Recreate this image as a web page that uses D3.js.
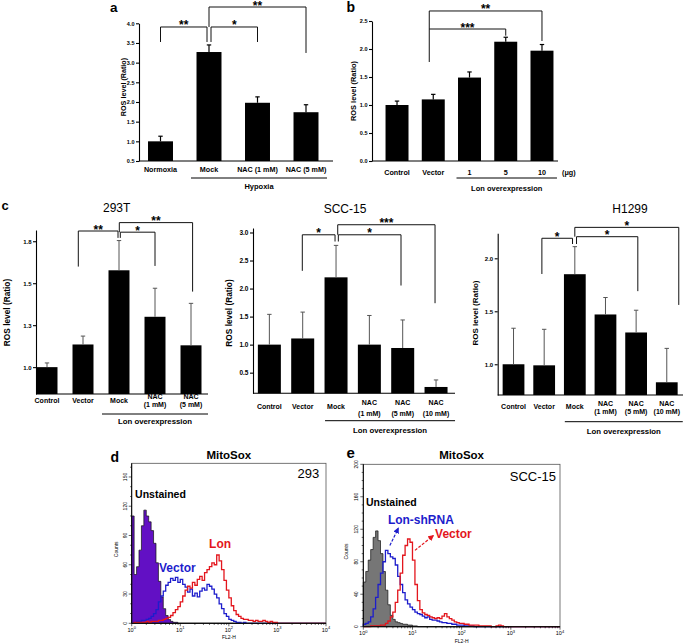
<!DOCTYPE html>
<html>
<head>
<meta charset="utf-8">
<script src="https://cdn.jsdelivr.net/npm/d3@7"></script>
<style>
  body { margin: 0; background: #fff; }
  svg { display: block; }
</style>
</head>
<body>
<svg id="fig" width="685" height="644"></svg>
<script>
// ---------- data : bar charts ----------
const aCats = ["Normoxia", "Mock", "NAC (1 mM)", "NAC (5 mM)"];
const aVals = [1.0, 3.27, 1.98, 1.74];
const aErr = [0.13, 0.18, 0.15, 0.19];
const aTicks = [0.5, 1.0, 1.5, 2.0, 2.5, 3.0, 3.5, 4.0];
const aTickLabels = ["0.5", "1.0", "1.5", "2.0", "2.5", "3.0", "3.5", "4.0"];

const bCats = ["Control", "Vector", "1", "5", "10"];
const bVals = [1.0, 1.1, 1.49, 2.13, 1.97];
const bErr = [0.07, 0.09, 0.10, 0.08, 0.11];
const bTicks = [0.0, 0.5, 1.0, 1.5, 2.0, 2.5];
const bTickLabels = ["0.0", "0.5", "1.0", "1.5", "2.0", "2.5"];

const c293Cats = ["Control", "Vector", "Mock", "NAC\n(1 mM)", "NAC\n(5 mM)"];
const c293Vals = [1.0, 1.135, 1.577, 1.30, 1.13];
const c293Err = [0.025, 0.05, 0.177, 0.17, 0.25];
const c293Ticks = [1.0, 1.25, 1.5, 1.75];
const c293TickLabels = ["1.0", "1.3", "1.5", "1.8"];

const cSccCats = ["Control", "Vector", "Mock", "NAC\n(1 mM)", "NAC\n(5 mM)", "NAC\n(10 mM)"];
const cSccVals = [1.0, 1.11, 2.2, 1.0, 0.94, 0.245];
const cSccErr = [0.54, 0.47, 0.57, 0.52, 0.50, 0.125];
const cSccTicks = [0.5, 1.0, 1.5, 2.0, 2.5, 3.0];
const cSccTickLabels = ["0.5", "1.0", "1.5", "2.0", "2.5", "3.0"];

const cH1299Cats = ["Control", "Vector", "Mock", "NAC\n(1 mM)", "NAC\n(5 mM)", "NAC\n(10 mM)"];
const cH1299Vals = [1.0, 0.99, 1.85, 1.47, 1.30, 0.83];
const cH1299Err = [0.34, 0.34, 0.26, 0.16, 0.21, 0.32];
const cH1299Ticks = [1.0, 1.5, 2.0];
const cH1299TickLabels = ["1.0", "1.5", "2.0"];

// ---------- data : flow histograms (counts per 0.05-decade channel, from 10^0) ----------
const binW = 0.05;
const dUnstained = [110, 50, 58, 75, 100, 116, 110, 104, 95, 82, 62, 43, 27, 15, 8, 4, 2, 1, 1, 0];
const dVector = [1, 1, 2, 2, 3, 3, 4, 5, 7, 10, 14, 22, 28, 33, 39, 42, 46, 44, 47, 42, 45, 40, 37, 32, 35, 28,
  31, 27, 33, 36, 34, 40, 38, 35, 30, 26, 20, 15, 10, 7, 4, 3, 2, 1, 1, 0, 1, 0];
const dLon = [0, 1, 1, 1, 1, 1, 2, 1, 2, 2, 2, 3, 3, 4, 5, 6, 8, 11, 14, 17, 22, 28, 34, 38, 36, 42, 39, 45, 48,
  44, 52, 55, 58, 62, 60, 70, 64, 55, 44, 34, 26, 18, 13, 9, 7, 5, 4, 4, 3, 3, 2, 3, 2, 2, 3, 2, 1, 2, 1, 1, 0];
const dYTicks = [0, 30, 60, 90, 120, 150];

const eUnstained = [55, 68, 82, 95, 110, 118, 106, 90, 68, 45, 27, 14, 9, 6, 5, 4, 3, 3, 2, 2, 1, 1, 0];
const eShRNA = [3, 4, 6, 12, 22, 36, 52, 66, 80, 94, 90, 86, 84, 76, 62, 52, 42, 33, 28, 24, 21, 18, 16, 15, 13,
  11, 12, 9, 8, 8, 7, 6, 5, 5, 4, 4, 3, 3, 2, 2, 2, 1, 1, 1, 1, 0];
const eVector = [0, 0, 0, 1, 1, 1, 1, 2, 2, 4, 7, 12, 18, 30, 45, 66, 88, 100, 108, 104, 82, 52, 32, 21, 17, 15,
  14, 12, 11, 10, 11, 10, 13, 16, 12, 10, 8, 6, 5, 4, 4, 3, 3, 2, 2, 2, 2, 1, 1, 1, 1, 1, 0, 0, 1, 2, 1, 0];
const eYTicks = [0, 40, 80, 120, 160, 200];

const FONT = '"Liberation Sans", Arial, Helvetica, sans-serif';
const RED = "#e3161d", BLUE = "#1d1dcc";

const svg = d3.select("#fig").attr("font-family", FONT);

function txt(g, x, y, s, size, opts = {}) {
  return g.append("text").attr("x", x).attr("y", y).attr("font-size", size)
    .attr("font-weight", opts.bold ? "bold" : "normal")
    .attr("text-anchor", opts.anchor || "middle")
    .attr("fill", opts.fill || "#000").text(s);
}

// ---------- bar panel ----------
function barPanel(p) {
  const g = svg.append("g");
  const x = d3.scaleBand().domain(p.cats).range(p.xRange)
    .paddingInner(p.pad).paddingOuter(p.pad / 2);
  const y = d3.scaleLinear().domain(p.yDomain).range(p.yRange);
  const cx = i => x(p.cats[i]) + x.bandwidth() / 2;
  const base = y(p.yDomain[0]);

  g.append("g").selectAll("rect").data(p.vals).join("rect")
    .attr("x", (d, i) => x(p.cats[i]))
    .attr("y", d => y(d))
    .attr("width", x.bandwidth())
    .attr("height", d => base - y(d))
    .attr("fill", "#000");

  // error bars (upper only)
  const eg = g.append("g").attr("stroke", p.errColor).attr("stroke-width", p.errW);
  eg.selectAll(".ev").data(p.vals).join("line").attr("class", "ev")
    .attr("x1", (d, i) => cx(i)).attr("x2", (d, i) => cx(i))
    .attr("y1", d => y(d)).attr("y2", (d, i) => y(d + p.errs[i]));
  eg.selectAll(".ec").data(p.vals).join("line").attr("class", "ec")
    .attr("x1", (d, i) => cx(i) - 2.2).attr("x2", (d, i) => cx(i) + 2.2)
    .attr("y1", (d, i) => y(d + p.errs[i])).attr("y2", (d, i) => y(d + p.errs[i]));

  // axes
  const ya = g.append("g").attr("transform", `translate(${p.axisX},0)`)
    .call(d3.axisLeft(y).tickValues(p.ticks).tickSize(3).tickSizeOuter(0).tickPadding(1.5)
      .tickFormat((d, i) => p.tickLabels[i]));
  ya.selectAll("text").attr("font-family", FONT).attr("font-size", p.tickFont).attr("font-weight", "bold");
  ya.selectAll("path, line").attr("stroke", "#000").attr("stroke-width", 1.1);
  g.append("line").attr("x1", p.axisX).attr("x2", p.axisEnd).attr("y1", base).attr("y2", base)
    .attr("stroke", "#000").attr("stroke-width", 1.1);

  // category labels
  p.cats.forEach((c, i) => {
    const lines = c.split("\n");
    const t = g.append("text").attr("text-anchor", "middle").attr("font-size", p.catFont)
      .attr("font-weight", "bold");
    if (lines.length === 1) t.attr("x", cx(i)).attr("y", p.catY[0]).text(c);
    else lines.forEach((l, j) => t.append("tspan").attr("x", cx(i)).attr("y", p.catY[j + 1]).text(l));
  });
  if (p.unit) txt(g, p.axisEnd + 4, p.catY[0], p.unit, p.catFont, { bold: true, anchor: "start" });

  // group underline
  const u = p.under;
  const ux1 = cx(u.from) - u.padL, ux2 = cx(u.to) + u.padR;
  g.append("line").attr("x1", ux1).attr("x2", ux2).attr("y1", u.y).attr("y2", u.y)
    .attr("stroke", "#000").attr("stroke-width", 1);
  txt(g, (ux1 + ux2) / 2, u.ty, u.text, u.size, { bold: true });

  // y title
  g.append("text").attr("transform", `translate(${p.yTitle[0]},${p.yTitle[1]}) rotate(-90)`)
    .attr("text-anchor", "middle").attr("dy", "0.35em").attr("font-size", p.yTitleSize)
    .attr("font-weight", "bold").text("ROS level (Ratio)");

  // significance brackets
  p.brackets.forEach(b => {
    const xa = cx(b.a) + b.dxa, xb = cx(b.b) + b.dxb;
    g.append("path").attr("d", `M${xa},${y(b.la)}V${y(b.top)}H${xb}V${y(b.lb)}`)
      .attr("fill", "none").attr("stroke", "#111").attr("stroke-width", 1);
    txt(g, (xa + xb) / 2, y(b.top) + 2.5, b.text, 12, { bold: true });
  });

  if (p.title) txt(g, p.title[0], p.title[1], p.title[2], 12);
}

barPanel({
  cats: aCats, vals: aVals, errs: aErr, ticks: aTicks, tickLabels: aTickLabels, tickFont: 5.5,
  xRange: [136.25, 330.25], pad: 0.485, yDomain: [0.5, 4.0], yRange: [161, 23.3],
  axisX: 139, axisEnd: 333, errColor: "#000", errW: 1.2, catFont: 7.2, catY: [171.6],
  under: { from: 1, to: 3, padL: 18, padR: 21, y: 178, ty: 188.5, text: "Hypoxia", size: 7.5 },
  yTitle: [123, 87], yTitleSize: 7.2,
  brackets: [
    { a: 0, b: 1, dxa: 0, dxb: -2, top: 3.906, la: 3.525, lb: 3.525, text: "**" },
    { a: 1, b: 2, dxa: 2, dxb: 0, top: 3.906, la: 3.525, lb: 3.525, text: "*" },
    { a: 1, b: 3, dxa: 0, dxb: 0, top: 4.414, la: 3.906, lb: 3.246, text: "**" }
  ]
});

barPanel({
  cats: bCats, vals: bVals, errs: bErr, ticks: bTicks, tickLabels: bTickLabels, tickFont: 5.5,
  xRange: [378.9, 560.1], pad: 0.366, yDomain: [0, 2.5], yRange: [161, 21],
  axisX: 372, axisEnd: 558, errColor: "#000", errW: 1.2, catFont: 7.2, catY: [174.6], unit: "(\u03bcg)",
  under: { from: 2, to: 4, padL: 13, padR: 15, y: 178, ty: 190.5, text: "Lon overexpression", size: 7.5 },
  yTitle: [353, 91], yTitleSize: 7.4,
  brackets: [
    { a: 1, b: 3, dxa: -4, dxb: 0, top: 2.357, la: 1.768, lb: 2.238, text: "***" },
    { a: 1, b: 4, dxa: -4, dxb: 0, top: 2.679, la: 2.357, lb: 2.143, text: "**" }
  ]
});

barPanel({
  cats: c293Cats, vals: c293Vals, errs: c293Err, ticks: c293Ticks, tickLabels: c293TickLabels, tickFont: 6,
  xRange: [29, 209], pad: 0.417, yDomain: [0.84, 1.817], yRange: [394, 230],
  axisX: 36, axisEnd: 208, errColor: "#555", errW: 1, catFont: 7, catY: [403.3, 399.3, 407.1],
  under: { from: 2, to: 4, padL: 17, padR: 17, y: 414, ty: 424, text: "Lon overexpression", size: 7.8 },
  yTitle: [7, 312.5], yTitleSize: 8.3, title: [116.7, 211.5, "293T"],
  brackets: [
    { a: 1, b: 2, dxa: -4.7, dxb: -1, top: 1.811, la: 1.599, lb: 1.77, text: "**" },
    { a: 2, b: 3, dxa: 1.3, dxb: 0, top: 1.804, la: 1.77, lb: 1.603, text: "*" },
    { a: 2, b: 4, dxa: 0.3, dxb: 1.6, top: 1.861, la: 1.804, lb: 1.45, text: "**" }
  ]
});

barPanel({
  cats: cSccCats, vals: cSccVals, errs: cSccErr, ticks: cSccTicks, tickLabels: cSccTickLabels, tickFont: 6.5,
  xRange: [252.7, 452.7], pad: 0.31, yDomain: [0.132, 3.08], yRange: [393.3, 228],
  axisX: 253, axisEnd: 455, errColor: "#555", errW: 1, catFont: 7, catY: [408.6, 405.3, 415.6],
  under: { from: 2, to: 5, padL: 11, padR: 19, y: 420.7, ty: 433, text: "Lon overexpression", size: 7.8 },
  yTitle: [229, 313], yTitleSize: 8.3, title: [345, 212.5, "SCC-15"],
  brackets: [
    { a: 1, b: 2, dxa: -0.4, dxb: -1, top: 2.959, la: 2.316, lb: 2.839, text: "*" },
    { a: 2, b: 4, dxa: 2.3, dxb: -1.7, top: 2.959, la: 2.839, lb: 2.054, text: "*" },
    { a: 2, b: 5, dxa: 1.7, dxb: -1, top: 3.138, la: 2.959, lb: 1.739, text: "***" }
  ]
});

barPanel({
  cats: cH1299Cats, vals: cH1299Vals, errs: cH1299Err, ticks: cH1299Ticks, tickLabels: cH1299TickLabels, tickFont: 6,
  xRange: [498.2, 682.1], pad: 0.29, yDomain: [0.71, 2.236], yRange: [395, 233.3],
  axisX: 497.7, axisEnd: 683, errColor: "#555", errW: 1, catFont: 7, catY: [409.3, 405.9, 414.3],
  under: { from: 2, to: 5, padL: 10, padR: 16, y: 421.7, ty: 433.5, text: "Lon overexpression", size: 7.8 },
  yTitle: [475, 313], yTitleSize: 8, title: [630, 212.5, "H1299"],
  brackets: [
    { a: 1, b: 2, dxa: -2.3, dxb: -2.3, top: 2.189, la: 1.852, lb: 2.135, text: "*" },
    { a: 2, b: 4, dxa: 1.7, dxb: 1.7, top: 2.204, la: 2.135, lb: 1.69, text: "*" },
    { a: 2, b: 5, dxa: 0, dxb: 12, top: 2.292, la: 2.204, lb: 1.56, text: "*" }
  ]
});

// ---------- flow cytometry panels ----------
const defs = svg.append("defs");
[["arBlue", BLUE], ["arRed", RED]].forEach(([id, c]) => {
  defs.append("marker").attr("id", id).attr("viewBox", "0 0 10 10").attr("refX", 8).attr("refY", 5)
    .attr("markerWidth", 5).attr("markerHeight", 5).attr("orient", "auto")
    .append("path").attr("d", "M0,0L10,5L0,10z").attr("fill", c);
});

function flowPanel(p) {
  const g = svg.append("g");
  const x = d3.scaleLog().domain([1, 1e4]).range(p.xRange);
  const y = d3.scaleLinear().domain(p.yDomain).range(p.yRange);
  const pts = h => {
    const a = [[1, 0]];
    h.forEach((c, i) => a.push([Math.pow(10, i * binW), c]));
    a.push([Math.pow(10, h.length * binW), 0]);
    a.push([1e4, 0]);
    return a;
  };
  const area = d3.area().x(d => x(d[0])).y0(y(0)).y1(d => y(d[1])).curve(d3.curveStepAfter);
  const line = d3.line().x(d => x(d[0])).y(d => y(d[1])).curve(d3.curveStepAfter);

  g.append("path").attr("d", area(pts(p.fill))).attr("fill", p.fillColor)
    .attr("stroke", "#111").attr("stroke-width", 0.7);
  p.lines.forEach(l => g.append("path").attr("d", line(pts(l.data))).attr("fill", "none")
    .attr("stroke", l.color).attr("stroke-width", 1.3));

  const [x0, x1] = p.xRange, [yb, yt] = p.yRange;
  g.append("rect").attr("x", x0).attr("y", yt).attr("width", x1 - x0).attr("height", yb - yt)
    .attr("fill", "none").attr("stroke", "#555").attr("stroke-width", 0.8);
  g.append("path").attr("d", `M${x0},${yt}V${yb}H${x1}`).attr("fill", "none")
    .attr("stroke", "#000").attr("stroke-width", 1);

  // y ticks
  d3.range(0, p.yDomain[1] + 0.1, p.yMinor).forEach(v => {
    const major = p.yTicks.includes(v);
    g.append("line").attr("x1", x0 - (major ? 3 : 1.6)).attr("x2", x0).attr("y1", y(v)).attr("y2", y(v))
      .attr("stroke", "#000").attr("stroke-width", 0.6);
  });
  p.yTicks.forEach(v => {
    g.append("text").attr("transform", `translate(${x0 - 5},${y(v)}) rotate(-90)`)
      .attr("text-anchor", "middle").attr("font-size", 5).text(v);
  });
  g.append("text").attr("transform", `translate(${x0 - p.countsOff},${(yb + yt) / 2 + 6}) rotate(-90)`)
    .attr("text-anchor", "middle").attr("font-size", 5).text("Counts");

  // x ticks (log)
  [1, 10, 100, 1000].forEach(dec => {
    for (let m = 1; m < 10; m++) {
      const v = dec * m;
      g.append("line").attr("x1", x(v)).attr("x2", x(v)).attr("y1", yb).attr("y2", yb + (m === 1 ? 3 : 1.6))
        .attr("stroke", "#000").attr("stroke-width", 0.6);
    }
  });
  g.append("line").attr("x1", x1).attr("x2", x1).attr("y1", yb).attr("y2", yb + 3)
    .attr("stroke", "#000").attr("stroke-width", 0.6);
  [0, 1, 2, 3, 4].forEach(k => {
    const t = g.append("text").attr("x", x(Math.pow(10, k))).attr("y", yb + p.xLabOff)
      .attr("text-anchor", "middle").attr("font-size", 5.5);
    t.append("tspan").text("10");
    t.append("tspan").attr("dy", -2.5).attr("font-size", 4).text(k);
  });
  txt(g, (x0 + x1) / 2, yb + p.xLabOff + 7.5, "FL2-H", 5);

  txt(g, (x0 + x1) / 2, 459, "MitoSox", 11.5, { bold: true });
  p.labels.forEach(l => txt(g, x(Math.pow(10, l.dec)), y(l.count), l.text, l.size,
    { bold: l.bold, fill: l.color, anchor: l.anchor }));
  (p.arrows || []).forEach(a => g.append("line")
    .attr("x1", x(Math.pow(10, a.from[0]))).attr("y1", y(a.from[1]))
    .attr("x2", x(Math.pow(10, a.to[0]))).attr("y2", y(a.to[1]))
    .attr("stroke", a.color).attr("stroke-width", 1.2).attr("stroke-dasharray", "3,1.5")
    .attr("marker-end", `url(#${a.marker})`));
}

flowPanel({
  xRange: [131.7, 326], yDomain: [0, 164], yRange: [623.3, 463.3], yTicks: dYTicks, yMinor: 10,
  fill: dUnstained, fillColor: "#6210c4",
  lines: [{ data: dVector, color: BLUE }, { data: dLon, color: RED }],
  countsOff: 13.5, xLabOff: 8.5,
  labels: [
    { text: "Unstained", dec: 0.07, count: 128, size: 10.5, bold: true, anchor: "start" },
    { text: "Vector", dec: 0.94, count: 52.5, size: 12, bold: true, color: BLUE },
    { text: "Lon", dec: 1.82, count: 77, size: 12, bold: true, color: RED },
    { text: "293", dec: 3.86, count: 149, size: 13, anchor: "end" }
  ]
});

flowPanel({
  xRange: [363.3, 560], yDomain: [0, 200], yRange: [626.7, 464.3], yTicks: eYTicks, yMinor: 10,
  fill: eUnstained, fillColor: "#767676",
  lines: [{ data: eShRNA, color: BLUE }, { data: eVector, color: RED }],
  countsOff: 15, xLabOff: 8.5,
  labels: [
    { text: "Unstained", dec: 0.055, count: 149, size: 10.5, bold: true, anchor: "start" },
    { text: "Lon-shRNA", dec: 0.5, count: 127, size: 12, bold: true, color: BLUE, anchor: "start" },
    { text: "Vector", dec: 1.46, count: 109, size: 12, bold: true, color: RED, anchor: "start" },
    { text: "SCC-15", dec: 3.92, count: 179, size: 13, anchor: "end" }
  ],
  arrows: [
    { from: [0.54, 100], to: [0.71, 121], color: BLUE, marker: "arBlue" },
    { from: [1.05, 94], to: [1.42, 112], color: RED, marker: "arRed" }
  ]
});

// ---------- panel letters ----------
[["a", 110, 12, 13.5], ["b", 346.5, 12, 14], ["c", 1.5, 210, 13], ["d", 110.5, 461.7, 14], ["e", 346.5, 458.3, 15]]
  .forEach(([s, x, y, f]) => txt(svg, x, y, s, f, { bold: true, anchor: "start" }));
</script>
</body>
</html>
